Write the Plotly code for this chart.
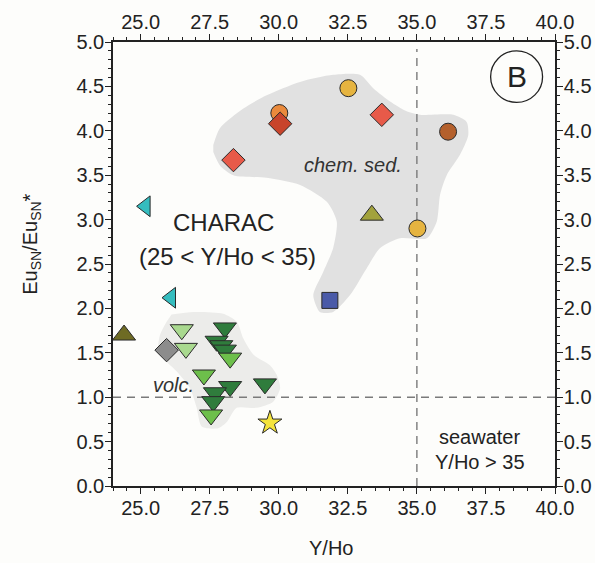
import plotly.graph_objects as go

# ---- axis settings -------------------------------------------------------
X_RANGE = [24, 40]
Y_RANGE = [0, 5]
SEAWATER_YHO = 35.0      # Y/Ho threshold for seawater
EU_NO_ANOMALY = 1.0      # Eu/Eu* = 1

# ---- outlines of the shaded fields (Y/Ho, Eu/Eu*) ------------------------
chem_sed_x = [27.63, 27.87, 28.72, 29.56, 30.77, 31.97, 32.94, 33.42, 34.03, 34.63,
              35.11, 36.32, 36.80, 36.86, 36.56, 36.08, 35.84, 35.72, 35.36, 34.39,
              33.67, 33.18, 32.58, 31.97, 31.49, 31.25, 31.61, 31.97, 32.10, 31.74,
              30.77, 29.56, 28.35, 27.87, 27.63]
chem_sed_y = [3.84, 4.03, 4.25, 4.40, 4.55, 4.63, 4.63, 4.48, 4.33, 4.22,
              4.18, 4.18, 4.10, 3.95, 3.73, 3.50, 3.28, 2.98, 2.79, 2.79,
              2.68, 2.45, 2.15, 1.96, 1.96, 2.15, 2.41, 2.68, 2.98, 3.20,
              3.39, 3.47, 3.50, 3.61, 3.76]

volc_x = [26.12, 26.91, 27.99, 28.48, 28.72, 29.08, 29.68, 29.93, 30.05, 29.80,
          29.20, 28.48, 28.12, 27.81, 27.21, 27.03, 26.79, 26.31, 25.94, 25.64,
          25.70, 25.94]
volc_y = [1.93, 1.96, 1.94, 1.85, 1.66, 1.48, 1.36, 1.25, 1.10, 0.95,
          0.88, 0.88, 0.72, 0.65, 0.67, 0.88, 1.10, 1.29, 1.40, 1.51,
          1.70, 1.85]

# ---- samples -------------------------------------------------------------
# chemical sediments
orange_circle_x, orange_circle_y = [30.02], [4.20]
gold_circle_x, gold_circle_y = [32.52, 35.02], [4.48, 2.90]
brown_circle_x, brown_circle_y = [36.13], [3.99]
red_diamond_x, red_diamond_y = [28.36, 33.73], [3.67, 4.18]
darkred_diamond_x, darkred_diamond_y = [30.05], [4.08]
olive_tri_x, olive_tri_y = [33.37], [3.05]
blue_square_x, blue_square_y = [31.85], [2.09]

# other samples
cyan_tri_x, cyan_tri_y = [25.18, 26.10], [3.15, 2.12]
darkolive_tri_x, darkolive_tri_y = [24.40], [1.70]
gray_diamond_x, gray_diamond_y = [25.94], [1.53]
star_x, star_y = [29.68], [0.71]

# volcanics
dark_green_x = [28.05, 27.75, 27.92, 28.05, 28.24, 29.50, 27.69, 27.63]
dark_green_y = [1.78, 1.63, 1.58, 1.53, 1.12, 1.15, 1.05, 0.95]
mid_green_x = [28.24, 27.29, 27.55]
mid_green_y = [1.44, 1.25, 0.80]
pale_green_x = [26.49, 26.64]
pale_green_y = [1.76, 1.55]

X_TICKS = [25.0, 27.5, 30.0, 32.5, 35.0, 37.5, 40.0]
Y_TICKS = [0.0, 0.5, 1.0, 1.5, 2.0, 2.5, 3.0, 3.5, 4.0, 4.5, 5.0]

FONT = "Liberation Sans, Arial, sans-serif"
INK = "#222222"
EDGE = dict(color="#2a2a2a", width=1)

fig = go.Figure()

# shaded fields
fig.add_trace(go.Scatter(x=chem_sed_x, y=chem_sed_y, fill="toself", mode="lines",
                         line=dict(width=0, color="rgba(0,0,0,0)", shape="spline", smoothing=0.7),
                         fillcolor="#e1e1e1", hoverinfo="skip", showlegend=False))
fig.add_trace(go.Scatter(x=volc_x, y=volc_y, fill="toself", mode="lines",
                         line=dict(width=0, color="rgba(0,0,0,0)", shape="spline", smoothing=0.7),
                         fillcolor="#ececea", hoverinfo="skip", showlegend=False))

# reference lines
fig.add_trace(go.Scatter(x=[SEAWATER_YHO, SEAWATER_YHO], y=[0, 4.92], mode="lines",
                         line=dict(color="#7a7a7a", width=1.4, dash="8px,6px"),
                         hoverinfo="skip", showlegend=False))
fig.add_trace(go.Scatter(x=X_RANGE, y=[EU_NO_ANOMALY, EU_NO_ANOMALY], mode="lines",
                         line=dict(color="#7a7a7a", width=1.4, dash="8px,6px"),
                         hoverinfo="skip", showlegend=False))


def pts(x, y, symbol, color, size):
    fig.add_trace(go.Scatter(x=x, y=y, mode="markers", showlegend=False,
                             marker=dict(symbol=symbol, color=color, size=size, line=EDGE)))


pts(orange_circle_x, orange_circle_y, "circle", "#ea8a3c", 17)
pts(gold_circle_x, gold_circle_y, "circle", "#e6b440", 17)
pts(brown_circle_x, brown_circle_y, "circle", "#b4602c", 17)
pts(red_diamond_x, red_diamond_y, "diamond", "#e75a49", 18)
pts(darkred_diamond_x, darkred_diamond_y, "diamond", "#c8442b", 18)
pts(olive_tri_x, olive_tri_y, "triangle-up", "#a2a23c", 20)
pts(blue_square_x, blue_square_y, "square", "#4a5aa8", 16)
pts(cyan_tri_x, cyan_tri_y, "triangle-left", "#35bdbf", 18)
pts(darkolive_tri_x, darkolive_tri_y, "triangle-up", "#6e6b24", 20)
pts(gray_diamond_x, gray_diamond_y, "diamond", "#8c8c8c", 18)
pts(star_x, star_y, "star", "#f5e43c", 18)
pts(dark_green_x, dark_green_y, "triangle-down", "#2f7c3c", 20)
pts(mid_green_x, mid_green_y, "triangle-down", "#6dbf4b", 20)
pts(pale_green_x, pale_green_y, "triangle-down", "#a9d98f", 20)

# invisible trace so the mirrored top/right axes are drawn
fig.add_trace(go.Scatter(x=X_RANGE, y=Y_RANGE, xaxis="x2", yaxis="y2", mode="markers",
                         marker=dict(opacity=0), hoverinfo="skip", showlegend=False))

axis_common = dict(showgrid=False, zeroline=False, showline=True, linecolor=INK,
                   linewidth=1.5, ticks="outside", ticklen=6, tickwidth=1.3,
                   tickcolor=INK, tickformat=".1f", automargin=False,
                   ticklabelstandoff=-3,
                   tickfont=dict(family=FONT, size=20, color=INK))

x_minor = dict(dtick=0.5, tick0=24, ticklen=3, tickwidth=1.2, tickcolor=INK, ticks="outside")
y_minor = dict(dtick=0.1, tick0=0, ticklen=3, tickwidth=1.2, tickcolor=INK, ticks="outside")

fig.update_layout(
    width=595, height=563,
    margin=dict(l=113, r=40, t=42, b=77),
    paper_bgcolor="#fdfdfb", plot_bgcolor="#fdfdfb",
    xaxis=dict(range=X_RANGE, tickvals=X_TICKS, minor=x_minor, **axis_common),
    xaxis2=dict(range=X_RANGE, tickvals=X_TICKS, overlaying="x", side="top", anchor="y",
                minor=x_minor, **axis_common),
    yaxis=dict(range=Y_RANGE, tickvals=Y_TICKS, minor=y_minor, **axis_common),
    yaxis2=dict(range=Y_RANGE, tickvals=Y_TICKS, overlaying="y", side="right", anchor="x",
                minor=y_minor, **axis_common),
    font=dict(family=FONT, color=INK),
)

# panel label
fig.add_shape(type="circle", xref="x", yref="y", x0=37.67, x1=39.55, y0=4.32, y1=4.90,
              line=dict(color=INK, width=1.3))
fig.add_annotation(x=38.61, y=4.61, text="B", showarrow=False,
                   font=dict(family=FONT, size=30, color=INK))

# field labels
fig.add_annotation(x=28.0, y=2.97, text="CHARAC", showarrow=False,
                   font=dict(family=FONT, size=24, color=INK))
fig.add_annotation(x=28.14, y=2.58, text="(25 &lt; Y/Ho &lt; 35)", showarrow=False,
                   font=dict(family=FONT, size=24, color=INK))
fig.add_annotation(x=32.68, y=3.615, text="<i>chem. sed.</i>", showarrow=False,
                   font=dict(family=FONT, size=20, color="#333333"))
fig.add_annotation(x=26.2, y=1.14, text="<i>volc.</i>", showarrow=False,
                   font=dict(family=FONT, size=20, color="#333333"))
fig.add_annotation(x=37.27, y=0.548, text="seawater", showarrow=False,
                   font=dict(family=FONT, size=20, color=INK))
fig.add_annotation(x=37.28, y=0.274, text="Y/Ho &gt; 35", showarrow=False,
                   font=dict(family=FONT, size=20, color=INK))

# axis titles
fig.add_annotation(xref="paper", yref="paper", x=0.493, y=-0.14, xanchor="center",
                   yanchor="middle", text="Y/Ho",
                   showarrow=False, font=dict(family=FONT, size=20, color=INK))
fig.add_annotation(xref="paper", yref="paper", x=-0.186, y=0.545, xanchor="center",
                   yanchor="middle", text="Eu<sub>SN</sub>/Eu<sub>SN</sub>*", textangle=-90,
                   showarrow=False, font=dict(family=FONT, size=20, color=INK))

fig.write_html("out.html")
